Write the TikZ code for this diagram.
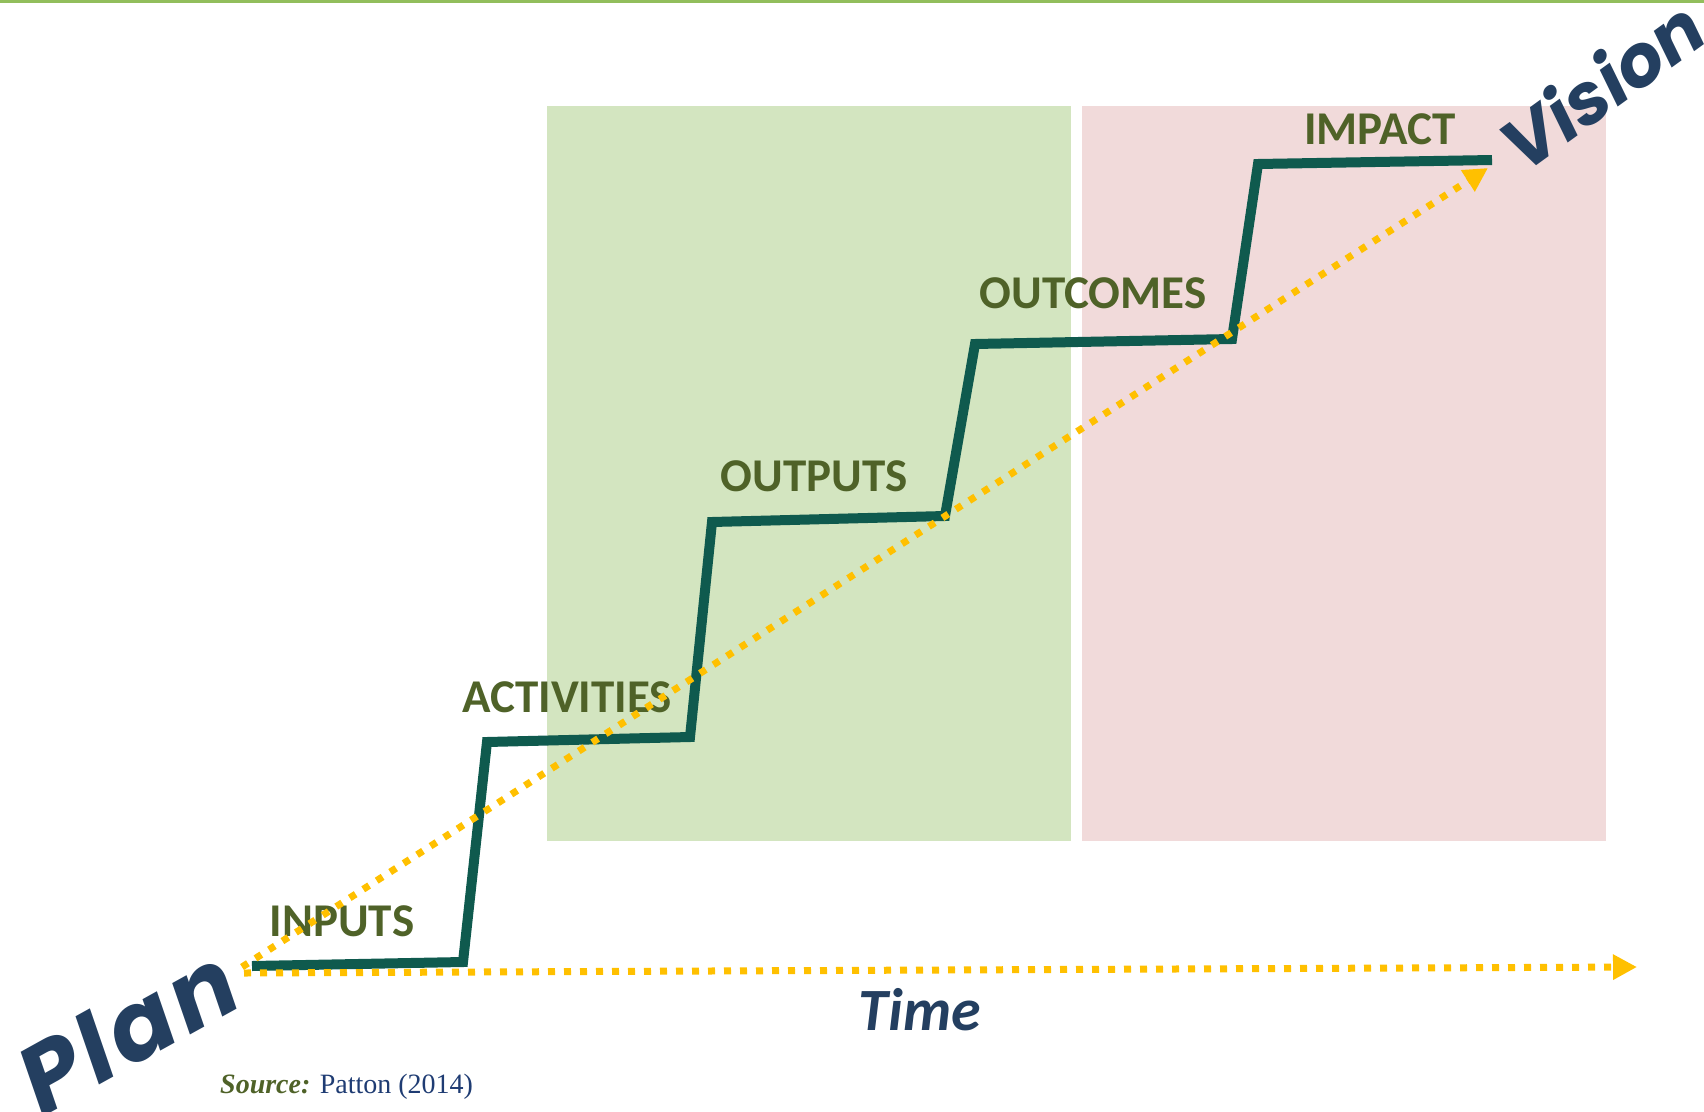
\documentclass[tikz,border=0pt]{standalone}
\usepackage{fontspec}
\setmainfont{Carlito}
\newfontfamily\planfont[LetterSpace=5]{Poppins}
\newfontfamily\visionfont{Poppins}
\newfontfamily\srcfont{Liberation Serif}
\usetikzlibrary{arrows.meta}

\definecolor{stair}{HTML}{0F5A4E}
\definecolor{olive}{HTML}{4F6228}
\definecolor{navy}{HTML}{243F60}
\definecolor{gold}{HTML}{FFC000}
\definecolor{boxgreen}{HTML}{D3E5C0}
\definecolor{boxpink}{HTML}{F1DADA}
\definecolor{topline}{HTML}{92BE5C}
\definecolor{srcblue}{HTML}{1F3C73}

\tikzset{
  steplabel/.style={font=\fontsize{47}{50}\selectfont\bfseries, text=olive, inner sep=0pt},
  signword/.style={text=navy, inner sep=0pt},
  dotline/.style={draw=gold, line width=7pt, dash pattern=on 7pt off 9pt,
    -{Triangle[length=24pt,width=24pt]}}
}

\begin{document}
\begin{tikzpicture}[x=1pt,y=-1pt]
\useasboundingbox (0,0) rectangle (1704,1111);

\coordinate (A) at (252,966);
\coordinate (B) at (463,962);
\coordinate (C) at (487,742);
\coordinate (D) at (690,737);
\coordinate (E) at (712,522);
\coordinate (F) at (945,516);
\coordinate (G) at (975,344);
\coordinate (H) at (1232,339);
\coordinate (I) at (1258,164);
\coordinate (J) at (1492,160);

\coordinate (T0) at (244,973);
\coordinate (T1) at (1637,967);
\coordinate (V0) at (242,967);
\coordinate (V1) at (1488,168);

% background
\fill[topline] (0,0) rectangle (1704,3);
\fill[boxgreen] (547,106) rectangle (1071,841);
\fill[boxpink] (1082,106) rectangle (1606,841);

% staircase
\draw[stair, line width=10pt, miter limit=20]
(A) -- (B) -- (C) -- (D) -- (E) -- (F) -- (G) -- (H) -- (I) -- (J);

\node[steplabel] (inputs) at (342,921) {INPUTS};
\node[steplabel] (activities) at (567,697) {ACTIVITIES};
\node[steplabel] (outputs) at (814,476) {OUTPUTS};
\node[steplabel] (outcomes) at (1093,293) {OUTCOMES};
\node[steplabel] (impact) at (1380,129) {IMPACT};

\node[signword, rotate=29, font=\planfont\fontsize{96}{100}\selectfont\bfseries\itshape]
  (plan) at (127,1030) {Plan};
\node[signword, rotate=36, font=\visionfont\fontsize{72}{76}\selectfont\bfseries\itshape]
  (vision) at (1601,84) {Vision};
\node[signword, font=\fontsize{60}{64}\selectfont\bfseries\itshape]
  (time) at (920,1010) {Time};

\node[font=\srcfont\fontsize{28}{32}\selectfont, inner sep=0pt, anchor=base west]
  (source) at (220,1093) {\textcolor{olive}{\textbf{\textit{Source:}}} \textcolor{srcblue}{Patton (2014)}};

% arrows
\draw[dotline] (T0) -- (T1);
\draw[dotline] (V0) -- (V1);
\end{tikzpicture}
\end{document}
